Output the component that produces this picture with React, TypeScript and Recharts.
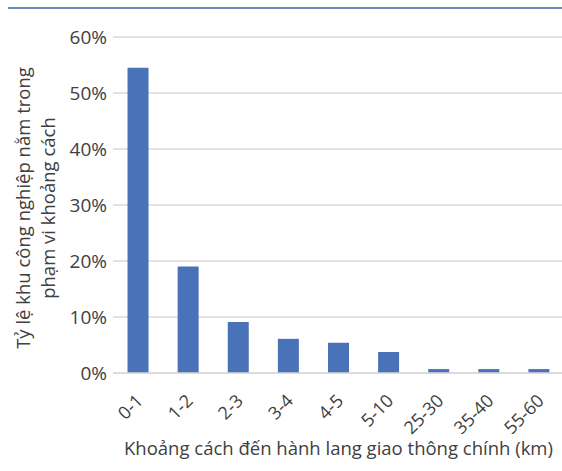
import { BarChart, Bar, CartesianGrid, XAxis, YAxis, Label } from "recharts";

// distance band (km) and share of industrial parks in each band
const bands = ["0-1", "1-2", "2-3", "3-4", "4-5", "5-10", "25-30", "35-40", "55-60"];
const shares = [0.545, 0.19, 0.091, 0.061, 0.054, 0.0375, 0.007, 0.007, 0.007];
const yTicks = [0, 0.1, 0.2, 0.3, 0.4, 0.5, 0.6];

const data = bands.map((band, i) => ({ band, share: shares[i] }));

const FONT = "'Open Sans', 'Noto Sans', sans-serif";
const TEXT = "#404040";

function BandTick({ x, y, payload }: any) {
  const ax = x + 6;
  const ay = y + 21;
  return (
    <text
      x={ax}
      y={ay}
      transform={`rotate(-45, ${ax}, ${ay})`}
      textAnchor="end"
      fill={TEXT}
      fontSize={18}
      fontFamily={FONT}
    >
      {payload.value}
    </text>
  );
}

function YTitle({ viewBox }: any) {
  const cx = 36;
  const cy = viewBox.y + viewBox.height / 2 + 3;
  return (
    <text
      transform={`rotate(-90, ${cx}, ${cy})`}
      x={cx}
      y={cy}
      textAnchor="middle"
      fill={TEXT}
      fontSize={18.5}
      fontFamily={FONT}
    >
      <tspan x={cx} dy={-6}>Tỷ lệ khu công nghiệp nằm trong</tspan>
      <tspan x={cx} dy={25}>phạm vi khoảng cách</tspan>
    </text>
  );
}

export default function App() {
  return (
    <div
      style={{
        position: "fixed",
        left: 0,
        top: 0,
        width: 562,
        height: 471,
        overflow: "hidden",
        background: "#fff",
      }}
    >
      <div
        style={{
          position: "absolute",
          left: 8,
          right: 0,
          top: 7,
          borderTop: "2px solid #6a8cbf",
        }}
      />
      <BarChart
        width={564}
        height={471}
        data={data}
        barCategoryGap="29%"
        margin={{ top: 37, right: 0, left: 0, bottom: 0 }}
      >
        <CartesianGrid vertical={false} stroke="#d9d9d9" strokeWidth={1.5} />
        <YAxis
          width={113}
          domain={[0, 0.6]}
          ticks={yTicks}
          tickFormatter={(v: number) => `${Math.round(v * 100)}%`}
          axisLine={false}
          tickLine={false}
          tickMargin={0}
          tick={{ fill: TEXT, fontSize: 19, fontFamily: FONT }}
        >
          <Label content={<YTitle />} />
        </YAxis>
        <XAxis
          dataKey="band"
          height={98}
          interval={0}
          axisLine={{ stroke: "#d9d9d9", strokeWidth: 1.5 }}
          tickLine={false}
          tick={<BandTick />}
        >
          <Label
            value="Khoảng cách đến hành lang giao thông chính (km)"
            position="insideBottom"
            offset={16}
            fill={TEXT}
            fontSize={18.5}
            fontFamily={FONT}
          />
        </XAxis>
        <Bar dataKey="share" fill="#4a72b8" isAnimationActive={false} />
      </BarChart>
    </div>
  );
}
